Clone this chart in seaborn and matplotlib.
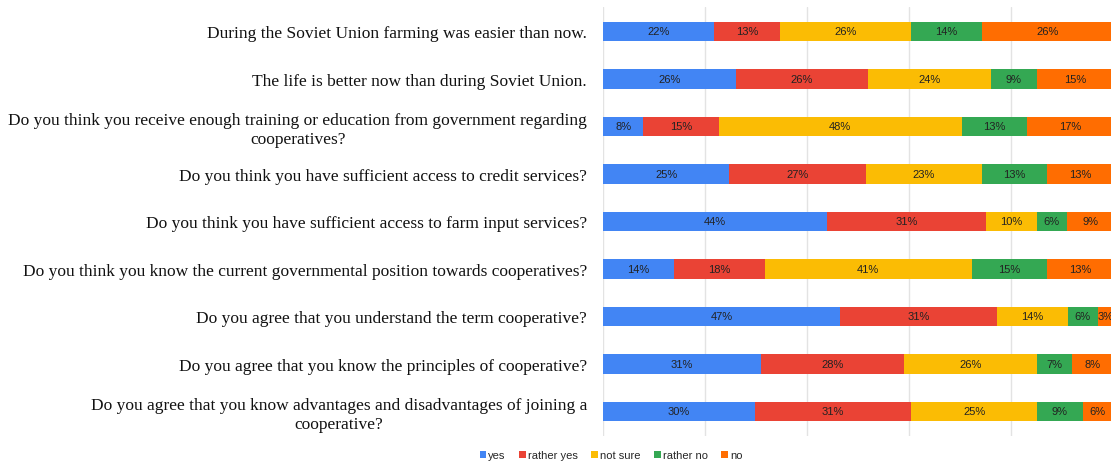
import numpy as np
import pandas as pd
import matplotlib.pyplot as plt
import seaborn as sns

# Questions (top to bottom) and answer shares in percent
questions = [
    'During the Soviet Union farming was easier than now.',
    'The life is better now than during Soviet Union.',
    'Do you think you receive enough training or education from government regarding\ncooperatives?',
    'Do you think you have sufficient access to credit services?',
    'Do you think you have sufficient access to farm input services?',
    'Do you think you know the current governmental position towards cooperatives?',
    'Do you agree that you understand the term cooperative?',
    'Do you agree that you know the principles of cooperative?',
    'Do you agree that you know advantages and disadvantages of joining a\ncooperative?',
]
answers = ['yes', 'rather yes', 'not sure', 'rather no', 'no']
yes = [22, 26, 8, 25, 44, 14, 47, 31, 30]
rather_yes = [13, 26, 15, 27, 31, 18, 31, 28, 31]
not_sure = [26, 24, 48, 23, 10, 41, 14, 26, 25]
rather_no = [14, 9, 13, 13, 6, 15, 6, 7, 9]
no = [26, 15, 17, 13, 9, 13, 3, 8, 6]
colors = ['#4285F4', '#EA4335', '#FBBC04', '#34A853', '#FF6D01']

df = pd.DataFrame({'yes': yes, 'rather yes': rather_yes, 'not sure': not_sure,
                   'rather no': rather_no, 'no': no}, index=questions)
# 100% stacked: rounded labels do not always add up to 100
share = df.div(df.sum(axis=1), axis=0) * 100
cum = share.cumsum(axis=1)

sns.set_style('white')
fig = plt.figure(figsize=(11.11, 4.64), dpi=100)
ax = fig.add_axes([0.5428, 0.0582, 0.4590, 0.9246])

# stacked bars: draw cumulative totals from the last answer back to the first
for ans, col in reversed(list(zip(answers, colors))):
    sns.barplot(x=cum[ans].values, y=questions, orient='h', color=col,
                width=0.41, ax=ax, label=ans, saturation=1, linewidth=0)

# value labels in the middle of each segment
for i, q in enumerate(questions):
    start = 0
    for ans in answers:
        w = share.loc[q, ans]
        ax.text(start + w / 2, i, f'{df.loc[q, ans]}%', ha='center', va='center',
                fontsize=8, color='#222222', family='Liberation Sans')
        start += w

ax.set_xlim(0, 100)
ax.set_ylim(8.516, -0.516)
ax.set_xticks([0, 20, 40, 60, 80])
ax.xaxis.grid(True, color='#e3e3e3', linewidth=1)
ax.set_axisbelow(True)
ax.tick_params(axis='x', length=0, labelbottom=False)
ax.tick_params(axis='y', length=0, pad=11.5)
for s in ax.spines.values():
    s.set_visible(False)
for lab in ax.get_yticklabels():
    lab.set_family('Liberation Serif')
    lab.set_fontsize(12.5)
    lab.set_multialignment('center')
    lab.set_color('#111111')

handles, labels = ax.get_legend_handles_labels()
order = [labels.index(a) for a in answers]
ax.legend([handles[k] for k in order], answers, loc='center',
          bbox_to_anchor=(0.55, 0.017), bbox_transform=fig.transFigure,
          ncol=5, frameon=False, handlelength=0.6, handleheight=0.6,
          handletextpad=0.2, columnspacing=1.2,
          prop={'family': 'Liberation Sans', 'size': 8})

fig.savefig('out.png', dpi=100)
